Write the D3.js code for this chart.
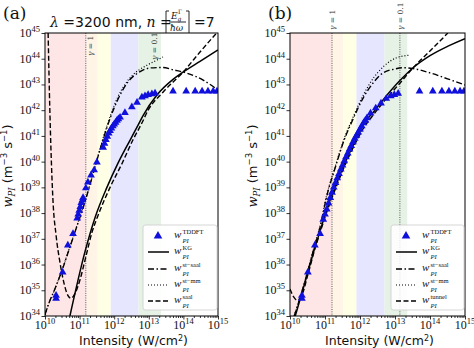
<!DOCTYPE html>
<html><head><meta charset="utf-8">
<script src="https://cdn.jsdelivr.net/npm/d3@7"></script>
<style>body{margin:0;background:#fff}svg{display:block}</style>
</head><body><svg id="c" width="474" height="348"></svg>
<script>
// ---- data (log10 of intensity in W/cm^2, log10 of rate in m^-3 s^-1) ----
const xTickExps = [10, 11, 12, 13, 14, 15];
const yTickExps = [34, 35, 36, 37, 38, 39, 40, 41, 42, 43, 44, 45];

const bandStart = [10, 11.2, 11.52, 11.9, 12.7];
const bandEnd   = [11.2, 11.52, 11.9, 12.7, 13.35];
const bandColor = ["#ffe6e6", "#fff4e6", "#ffffe6", "#e6e6ff", "#e6f2e6"];

const tddftA_I = [10.32,10.32,10.51,10.66,10.81,10.93,10.96,10.99,11.02,11.05,11.08,11.1,11.18,11.24,11.33,11.42,11.5,11.68,11.72,11.76,11.8,11.84,11.88,11.92,11.96,12.0,12.04,12.08,12.12,12.17,12.31,12.51,12.66,12.8,12.89,12.98,13.09,13.18,13.7,14.08,14.34,14.54,14.71,14.86,14.97];
const tddftA_W = [34.8,34.68,35.7,36.75,37.2,37.8,37.95,38.1,38.25,38.4,38.5,38.6,38.97,39.2,39.47,39.67,39.98,40.55,40.7,40.85,40.98,41.1,41.2,41.3,41.38,41.45,41.52,41.6,41.66,41.72,41.9,42.12,42.3,42.5,42.55,42.6,42.63,42.66,42.74,42.74,42.74,42.74,42.74,42.74,42.74];

const tddftB_I = [10.34,10.34,10.51,10.71,10.86,10.95,11.0,11.05,11.1,11.15,11.2,11.25,11.3,11.35,11.4,11.45,11.5,11.55,11.6,11.65,11.7,11.75,11.8,11.85,11.9,11.95,12.0,12.05,12.1,12.15,12.2,12.3,12.45,12.6,12.75,12.88,12.98,13.09,13.7,14.08,14.34,14.54,14.71,14.86,14.97];
const tddftB_W = [34.8,34.68,35.7,36.75,37.2,37.75,37.95,38.15,38.38,38.6,38.8,39.0,39.18,39.36,39.53,39.7,39.86,40.02,40.18,40.33,40.48,40.62,40.76,40.9,41.02,41.14,41.26,41.38,41.5,41.6,41.7,41.88,42.08,42.27,42.45,42.55,42.6,42.65,42.74,42.74,42.74,42.74,42.74,42.74,42.74];

// panel (a) curves
const kgA_I = [10.72,11.16,11.45,11.79,12.11,12.46,12.69,12.83,13.24,13.7,13.99,14.48,15.0];
const kgA_W = [34.0,36.52,37.84,39.0,39.94,40.84,41.42,41.78,42.6,43.2,43.48,43.9,44.34];
const stSaalA_I = [10.0,10.06,10.3,10.5,10.7,10.9,11.1,11.3,11.5,11.7,11.9,12.1,12.4,12.75,13.03,13.4,13.7,14.1,14.57,15.0];
const stSaalA_W = [34.05,34.3,35.1,35.8,36.6,37.4,38.2,39.1,40.05,40.95,41.75,42.4,43.1,43.5,43.64,43.66,43.57,43.44,43.17,42.78];
const stMmA_I = [10.0,10.06,10.3,10.5,10.7,10.9,11.1,11.3,11.5,11.7,11.9,12.1,12.3,12.54,12.95,13.24,13.41];
const stMmA_W = [34.05,34.3,35.1,35.82,36.62,37.42,38.22,39.12,40.08,41.0,41.82,42.5,42.98,43.37,43.75,43.95,44.07];
const saalA_I = [10.09,10.14,10.23,10.32,10.43,10.55,10.66,10.75,10.87,11.01,11.18,11.36,11.53,11.88,12.23,12.54,12.8,12.98,13.41,13.99,14.48,14.91,15.0];
const saalA_W = [45.0,42.0,38.5,37.14,36.1,35.27,34.8,34.69,34.88,35.4,36.3,37.26,37.9,39.0,39.94,40.84,41.5,42.0,42.7,43.48,44.26,44.92,45.05];

// panel (b) curves
const kgB_I = [10.15,10.32,10.51,10.71,10.86,11.04,11.3,11.6,11.9,12.1,12.4,12.66,13.14,13.51,14.0,14.5,15.0];
const kgB_W = [34.0,34.8,35.7,36.65,37.3,38.1,39.05,40.05,40.9,41.45,41.95,42.4,43.15,43.64,44.12,44.48,44.78];
const stSaalB_I = [10.12,10.32,10.51,10.71,10.86,11.04,11.3,11.55,11.8,12.1,12.4,12.66,13.0,13.25,13.51,14.0,14.5,15.0];
const stSaalB_W = [34.0,34.85,35.75,36.75,37.45,38.6,39.8,40.85,41.65,42.5,43.1,43.45,43.6,43.65,43.62,43.45,43.22,42.98];
const stMmB_I = [10.12,10.32,10.51,10.71,10.86,11.04,11.3,11.55,11.8,12.1,12.4,12.66,13.03,13.43];
const stMmB_W = [34.0,34.87,35.78,36.8,37.5,38.65,39.85,40.9,41.72,42.6,43.28,43.68,44.03,44.14];
const tunnelB_I = [10.0,10.1,10.2,10.32,10.51,10.71,10.86,11.04,11.3,11.6,11.9,12.1,12.4,12.66,13.14,13.51,14.0,14.51];
const tunnelB_W = [35.05,34.75,34.62,34.75,35.6,36.6,37.25,38.0,38.95,39.95,40.8,41.3,41.85,42.3,43.05,43.64,44.3,45.0];

const gammaA_I = [11.18];
const gammaA_lbl = ["1"];
const gammaA_lblI = [11.3];
const gammaA2_lblI = [13.15];
const gammaB_I = [11.2, 13.14];
const gammaB_lbl = ["1", "0.1"];

const legendA = ["TDDFT", "KG", "st−saal", "st−mm", "saal"];
const legendB = ["TDDFT", "KG", "st−saal", "st−mm", "tunnel"];

// ---- drawing ----
const svg = d3.select("#c");
const SERIF = "'DejaVu Serif', serif";
const LSERIF = "'Liberation Serif', serif";
const SANS = "'DejaVu Sans', sans-serif";
const P = v => Math.pow(10, v);
const styles = {
  solid: {w: 1.5, dash: null},
  dashdot: {w: 1.4, dash: "6,2.5,1.5,2.5"},
  dotted: {w: 1.2, dash: "1,2"},
  dashed: {w: 1.4, dash: "5,2.5"}
};

function zipPts(a, b) { return a.map((v, i) => [v, b[i]]); }

function drawPanel(cfg) {
  const x = d3.scaleLog().domain([1e10, 1e15]).range([cfg.x0, cfg.x1]);
  const y = d3.scaleLog().domain([1e34, 1e45]).range([316, 33]);
  const g = svg.append("g");
  const clipId = "clip" + cfg.id;
  svg.append("clipPath").attr("id", clipId).append("rect")
    .attr("x", cfg.x0).attr("y", 33).attr("width", cfg.x1 - cfg.x0).attr("height", 283);
  const inner = g.append("g").attr("clip-path", `url(#${clipId})`);

  bandStart.forEach((s, i) => {
    inner.append("rect").attr("x", x(P(s))).attr("y", 33)
      .attr("width", x(P(bandEnd[i])) - x(P(s))).attr("height", 283)
      .attr("fill", bandColor[i]);
  });
  cfg.gammaI.forEach(v => {
    inner.append("line").attr("x1", x(P(v))).attr("x2", x(P(v)))
      .attr("y1", 33).attr("y2", 316).attr("stroke", "#333")
      .attr("stroke-width", 0.8).attr("stroke-dasharray", "1,1.3");
  });

  const line = d3.line().x(d => x(P(d[0]))).y(d => y(P(d[1]))).curve(d3.curveMonotoneX);
  cfg.curves.forEach(c => {
    const st = styles[c.style];
    inner.append("path").attr("d", line(zipPts(c.I, c.W)))
      .attr("fill", "none").attr("stroke", "#000").attr("stroke-width", st.w)
      .attr("stroke-dasharray", st.dash);
  });

  const tri = d3.symbol().type(d3.symbolTriangle).size(26);
  inner.selectAll("path.t").data(zipPts(cfg.tI, cfg.tW)).enter().append("path")
    .attr("d", tri).attr("fill", "#1010dd")
    .attr("transform", d => `translate(${x(P(d[0]))},${y(P(d[1]))})`);

  // frame
  g.append("rect").attr("x", cfg.x0).attr("y", 33).attr("width", cfg.x1 - cfg.x0).attr("height", 283)
    .attr("fill", "none").attr("stroke", "#000").attr("stroke-width", 1);

  // axes
  g.append("g").attr("transform", "translate(0,316)")
    .call(d3.axisBottom(x).tickValues(xTickExps.map(P)).tickSize(3.5).tickFormat(""));
  const minors = [];
  for (let e = 10; e < 15; e++) for (let m = 2; m <= 9; m++) minors.push(m * P(e));
  g.append("g").attr("transform", "translate(0,316)")
    .call(d3.axisBottom(x).tickValues(minors).tickSize(2).tickFormat(""));
  g.append("g").attr("transform", `translate(${cfg.x0},0)`)
    .call(d3.axisLeft(y).tickValues(yTickExps.map(P)).tickSize(3.5).tickFormat(""));
  g.selectAll(".domain").remove();
  g.selectAll(".tick line").attr("stroke", "#000").attr("stroke-width", 0.8);

  xTickExps.forEach(e => {
    const t = g.append("text").attr("x", x(P(e))).attr("y", 328.5)
      .attr("text-anchor", "middle").attr("font-family", LSERIF).attr("font-size", 12).attr("fill", "#111");
    t.append("tspan").text("10");
    t.append("tspan").attr("dy", -5).attr("font-size", 8.5).text(e);
  });
  yTickExps.forEach(e => {
    const t = g.append("text").attr("x", cfg.x0 - 5).attr("y", y(P(e)) + 4)
      .attr("text-anchor", "end").attr("font-family", LSERIF).attr("font-size", 12).attr("fill", "#111");
    t.append("tspan").text("10");
    t.append("tspan").attr("dy", -5).attr("font-size", 8.5).text(e);
  });

  // axis titles
  g.append("text").attr("x", (cfg.x0 + cfg.x1) / 2 + 2).attr("y", 344.5)
    .attr("text-anchor", "middle").attr("font-family", SANS).attr("font-size", 12.5)
    .attr("fill", "#111")
    .call(t => { t.append("tspan").text("Intensity (W/cm"); t.append("tspan").attr("dy", -4).attr("font-size", 8).text("2"); t.append("tspan").attr("dy", 4).text(")"); });
  const yl = g.append("text").attr("transform", `translate(${cfg.ylx},166) rotate(-90)`)
    .attr("text-anchor", "middle").attr("font-size", 13).attr("fill", "#111");
  yl.append("tspan").attr("font-family", SERIF).attr("font-style", "italic").text("w");
  yl.append("tspan").attr("font-family", SERIF).attr("font-style", "italic").attr("font-size", 8.5).attr("dy", 3).text("PI");
  yl.append("tspan").attr("font-family", SANS).attr("dy", -3).text(" (m");
  yl.append("tspan").attr("font-family", SANS).attr("font-size", 8.5).attr("dy", -5).text("−3");
  yl.append("tspan").attr("font-family", SANS).attr("dy", 5).text(" s");
  yl.append("tspan").attr("font-family", SANS).attr("font-size", 8.5).attr("dy", -5).text("−1");
  yl.append("tspan").attr("font-family", SANS).attr("dy", 5).text(")");

  // panel letter
  g.append("text").attr("x", cfg.letterX).attr("y", 19).attr("font-family", SERIF)
    .attr("font-size", 17).attr("fill", "#111").text(`(${cfg.id})`);

  // gamma labels
  cfg.gLabels.forEach(gl => {
    const t = g.append("text").attr("transform", `translate(${x(P(gl.I)) + 3},${gl.yb}) rotate(-90)`)
      .attr("font-family", SERIF).attr("font-size", 7.5).attr("fill", "#333");
    t.append("tspan").attr("font-style", "italic").text("γ");
    t.append("tspan").text(" = " + gl.t);
  });

  // legend
  const lx = cfg.legX, ly = 225, lw = cfg.x1 - 1 - cfg.legX;
  g.append("rect").attr("x", lx).attr("y", ly).attr("width", lw).attr("height", 85)
    .attr("rx", 2.5).attr("fill", "#fff").attr("fill-opacity", 0.85)
    .attr("stroke", "#ccc").attr("stroke-width", 0.8);
  const rowY = [236, 252, 269, 285, 301];
  const rowStyle = [null, "solid", "dashdot", "dotted", "dashed"];
  cfg.legend.forEach((lab, i) => {
    const yy = rowY[i];
    if (i === 0) {
      g.append("path").attr("d", d3.symbol().type(d3.symbolTriangle).size(32)())
        .attr("fill", "#1010dd").attr("transform", `translate(${lx + 15},${yy})`);
    } else {
      const st = styles[rowStyle[i]];
      g.append("line").attr("x1", lx + 5).attr("x2", lx + 26).attr("y1", yy).attr("y2", yy)
        .attr("stroke", "#000").attr("stroke-width", st.w).attr("stroke-dasharray", st.dash);
    }
    g.append("text").attr("x", lx + 31).attr("y", yy + 2).attr("font-family", LSERIF)
      .attr("font-style", "italic").attr("font-size", 11).attr("fill", "#111").text("w");
    g.append("text").attr("x", lx + 39.5).attr("y", yy + 6.5).attr("font-family", LSERIF)
      .attr("font-style", "italic").attr("font-size", 6.5).attr("fill", "#111").text("PI");
    g.append("text").attr("x", lx + 39.5).attr("y", yy - 2.5).attr("font-family", LSERIF)
      .attr("font-size", 6.5).attr("fill", "#111").text(lab);
  });
}

drawPanel({
  id: "a", x0: 45, x1: 218, ylx: 12, letterX: 3, legX: 143, legend: legendA,
  gammaI: gammaA_I,
  gLabels: [{I: gammaA_lblI[0], yb: 56, t: gammaA_lbl[0]}, {I: gammaA2_lblI[0], yb: 60, t: "0.1"}],
  tI: tddftA_I, tW: tddftA_W,
  curves: [
    {I: kgA_I, W: kgA_W, style: "solid"},
    {I: stSaalA_I, W: stSaalA_W, style: "dashdot"},
    {I: stMmA_I, W: stMmA_W, style: "dotted"},
    {I: saalA_I, W: saalA_W, style: "dashed"}
  ]
});
drawPanel({
  id: "b", x0: 290, x1: 465, ylx: 257, letterX: 268, legX: 391, legend: legendB,
  gammaI: gammaB_I,
  gLabels: [{I: gammaB_I[0], yb: 30, t: gammaB_lbl[0]}, {I: gammaB_I[1], yb: 30, t: gammaB_lbl[1]}],
  tI: tddftB_I, tW: tddftB_W,
  curves: [
    {I: kgB_I, W: kgB_W, style: "solid"},
    {I: stSaalB_I, W: stSaalB_W, style: "dashdot"},
    {I: stMmB_I, W: stMmB_W, style: "dotted"},
    {I: tunnelB_I, W: tunnelB_W, style: "dashed"}
  ]
});

// title of panel (a)
const title = svg.append("text").attr("x", 50).attr("y", 27).attr("font-size", 14).attr("fill", "#111");
title.append("tspan").attr("font-family", SERIF).attr("font-style", "italic").text("λ");
title.append("tspan").attr("font-family", SANS).text(" =3200 nm, ");
title.append("tspan").attr("font-family", SERIF).attr("font-style", "italic").text("n");
title.append("tspan").attr("font-family", SERIF).text(" =");
// ceiling brackets and fraction
const br = svg.append("g").attr("stroke", "#111").attr("stroke-width", 0.9).attr("fill", "none");
br.append("path").attr("d", "M166,33 L166,11 L169,11");
br.append("path").attr("d", "M189,33 L189,11 L186,11");
br.append("line").attr("x1", 169).attr("x2", 186).attr("y1", 22).attr("y2", 22);
const num = svg.append("text").attr("x", 171).attr("y", 19).attr("font-family", SERIF).attr("font-size", 9).attr("fill", "#111");
num.append("tspan").attr("font-style", "italic").text("E");
num.append("tspan").attr("font-style", "italic").attr("font-size", 6).attr("dy", 2).text("g");
svg.append("text").attr("x", 178).attr("y", 14).attr("font-family", SERIF).attr("font-size", 6).attr("fill", "#111").text("Γ");
svg.append("text").attr("x", 170).attr("y", 31).attr("font-family", SERIF).attr("font-style", "italic").attr("font-size", 9).attr("fill", "#111").text("ħω");
svg.append("text").attr("x", 194).attr("y", 27).attr("font-family", SANS).attr("font-size", 14).attr("fill", "#111").text("=7");
</script>
</body></html>
